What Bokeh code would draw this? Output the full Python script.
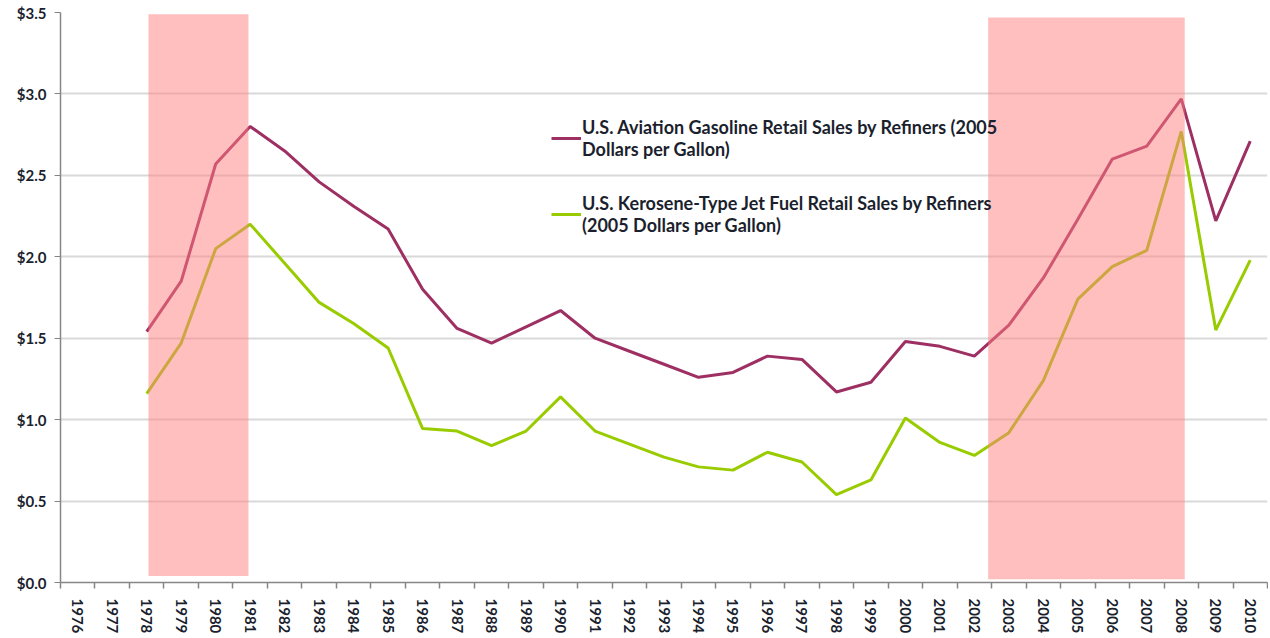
from bokeh.plotting import figure
from bokeh.models import (ColumnDataSource, FixedTicker, NumeralTickFormatter, Legend,
                          LegendItem, Range1d)
from bokeh.embed import file_html
from bokeh.resources import INLINE

years = list(range(1976, 2011))
data_years = list(range(1978, 2011))
aviation_gasoline = [1.54, 1.85, 2.57, 2.80, 2.65, 2.46, 2.31, 2.17, 1.80, 1.56,
                     1.47, 1.57, 1.67, 1.50, 1.42, 1.34, 1.26, 1.29, 1.39, 1.37,
                     1.17, 1.23, 1.48, 1.45, 1.39, 1.58, 1.87, 2.23, 2.60, 2.68,
                     2.97, 2.22, 2.71]
jet_fuel = [1.16, 1.47, 2.05, 2.20, 1.96, 1.72, 1.59, 1.44, 0.945, 0.93,
            0.84, 0.93, 1.14, 0.93, 0.85, 0.77, 0.71, 0.69, 0.80, 0.74,
            0.54, 0.63, 1.01, 0.86, 0.78, 0.92, 1.24, 1.74, 1.94, 2.04,
            2.77, 1.55, 1.98]
shade_start = [1978.05, 2002.4]
shade_end = [1980.95, 2008.1]
shade_top = [3.49, 3.47]
shade_bottom = [0.04, 0.02]
y_ticks = [0.0, 0.5, 1.0, 1.5, 2.0, 2.5, 3.0, 3.5]

label_av = "U.S. Aviation Gasoline Retail Sales by Refiners (2005\nDollars per Gallon)"
label_jet = "U.S. Kerosene-Type Jet Fuel Retail Sales by Refiners\n(2005 Dollars per Gallon)"

FONT = "Lato"
TXT = "#1b1f2e"

p = figure(width=1268, height=636, output_backend="svg", toolbar_location=None,
           x_range=Range1d(years[0] - 0.5, years[-1] + 0.5),
           y_range=Range1d(0, 3.5),
           min_border_left=60, min_border_top=12, min_border_right=1, min_border_bottom=54)
p.outline_line_color = None
p.background_fill_color = "white"

src = ColumnDataSource(dict(x=data_years, av=aviation_gasoline, jet=jet_fuel))
r1 = p.line("x", "av", source=src, line_color="#9E2F62", line_width=3)
r2 = p.line("x", "jet", source=src, line_color="#99CC00", line_width=3)

# grid
p.xgrid.grid_line_color = None
p.ygrid.grid_line_color = "#D9D9D9"
p.ygrid.grid_line_width = 2
p.yaxis.ticker = FixedTicker(ticks=y_ticks)

# x axis
p.xaxis.ticker = FixedTicker(ticks=years, minor_ticks=[y - 0.5 for y in years] + [years[-1] + 0.5])
p.xaxis.major_tick_line_color = None
p.xaxis.minor_tick_line_color = "#868686"
p.xaxis.minor_tick_out = 6
p.xaxis.minor_tick_in = 0
p.xaxis.minor_tick_line_width = 1.5
p.xaxis.axis_line_color = "#868686"
p.xaxis.axis_line_width = 1.5
p.xaxis.major_label_orientation = "vertical"
p.xaxis.major_label_standoff = 10
p.xaxis.major_label_text_font = FONT
p.xaxis.major_label_text_font_style = "bold"
p.xaxis.major_label_text_font_size = "15px"
p.xaxis.major_label_text_color = TXT

# y axis
p.yaxis.formatter = NumeralTickFormatter(format="$0.0")
p.yaxis.axis_line_color = "#868686"
p.yaxis.axis_line_width = 1.5
p.yaxis.major_tick_line_color = "#868686"
p.yaxis.major_tick_out = 6
p.yaxis.major_tick_in = 0
p.yaxis.minor_tick_line_color = None
p.yaxis.major_label_standoff = 8
p.yaxis.major_label_text_font = FONT
p.yaxis.major_label_text_font_style = "bold"
p.yaxis.major_label_text_font_size = "15px"
p.yaxis.major_label_text_color = TXT

legend = Legend(items=[LegendItem(label=label_av, renderers=[r1]),
                       LegendItem(label=label_jet, renderers=[r2])],
                location=(491, 346), background_fill_alpha=0, border_line_color=None,
                label_text_font=FONT, label_text_font_style="bold",
                label_text_font_size="18px", label_text_color=TXT,
                glyph_width=30, label_standoff=1, spacing=32, padding=6,
                label_text_line_height=1.1)
p.add_layout(legend)

# recession-style shading drawn on top of everything (semi-transparent)
shade = ColumnDataSource(dict(left=shade_start, right=shade_end, top=shade_top, bottom=shade_bottom))
p.quad(left="left", right="right", top="top", bottom="bottom", source=shade,
       fill_color="#FF7F7F", fill_alpha=0.5, line_color=None, level="overlay")

open("out.html", "w").write(file_html(p, INLINE))
